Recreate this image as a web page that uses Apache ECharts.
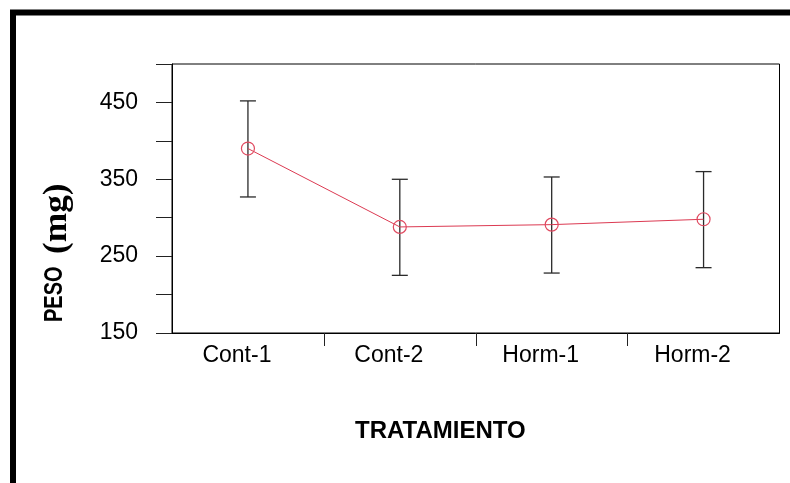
<!DOCTYPE html>
<html>
<head>
<meta charset="utf-8">
<script src="https://cdn.jsdelivr.net/npm/echarts@6/dist/echarts.min.js"></script>
<style>
  html, body { margin: 0; padding: 0; background: #fff; }
  #chart { width: 790px; height: 483px; }
</style>
</head>
<body>
<div id="chart"></div>
<script>
// Treatment groups and mean weight (mg) with error-bar limits
const categories = ['Cont-1', 'Cont-2', 'Horm-1', 'Horm-2'];
const means = [390, 288, 291, 298];
const lowerLimits = [327, 225, 228, 235];
const upperLimits = [452, 350, 353, 360];
const yTickLabels = [150, 250, 350, 450];

const errorData = categories.map((c, i) => [i, lowerLimits[i], upperLimits[i]]);

const chart = echarts.init(document.getElementById('chart'), null, { renderer: 'canvas' });

const labelFont = 'Liberation Sans, Arial, sans-serif';

chart.setOption({
  animation: false,
  backgroundColor: '#fff',
  title: {
    text: 'TRATAMIENTO',
    left: 350,
    top: 414,
    textStyle: { fontFamily: labelFont, fontWeight: 'bold', fontSize: 24, color: '#000' }
  },
  graphic: [
    {
      type: 'rect',
      silent: true,
      shape: { x: 13, y: 12.5, width: 820, height: 520 },
      style: { fill: 'none', stroke: '#000', lineWidth: 6 }
    },
    {
      // vertical axis title, part 1
      type: 'text',
      silent: true,
      x: 55,
      y: 322,
      rotation: Math.PI / 2,
      scaleY: 1.25,
      style: {
        text: 'PESO',
        font: 'bold 20px ' + labelFont,
        fill: '#000',
        align: 'left',
        verticalAlign: 'middle'
      }
    },
    {
      // vertical axis title, part 2 (unit)
      type: 'text',
      silent: true,
      x: 57,
      y: 254,
      rotation: Math.PI / 2,
      scaleX: 1.07,
      style: {
        text: '(mg)',
        font: 'bold 33px Liberation Serif, Times New Roman, serif',
        fill: '#000',
        align: 'left',
        verticalAlign: 'middle'
      }
    }
  ],
  grid: {
    left: 172, right: 10.5, top: 64, bottom: 150,
    show: true, borderColor: '#000', borderWidth: 1, backgroundColor: 'transparent'
  },
  xAxis: [
    {
      type: 'category',
      data: categories,
      boundaryGap: true,
      position: 'bottom',
      axisLine: { lineStyle: { color: '#000', width: 1 } },
      axisTick: { show: false },
      axisLabel: { fontFamily: labelFont, fontSize: 23, color: '#000', margin: 11, padding: [0, 22, 0, 0] },
      splitLine: { show: false }
    },
    {
      type: 'value',
      min: 0, max: 4,
      position: 'bottom',
      axisLine: { show: false },
      axisLabel: { show: false },
      axisTick: { show: true, length: 13, customValues: [1, 2, 3], lineStyle: { color: '#222', width: 1 } },
      splitLine: { show: false }
    }
  ],
  yAxis: {
    type: 'value',
    min: 150, max: 500, interval: 50,
    axisLine: { show: true, lineStyle: { color: '#000', width: 1 } },
    axisTick: { show: true, inside: false, length: 16, lineStyle: { color: '#222', width: 1 } },
    axisLabel: {
      fontFamily: labelFont, fontSize: 23, color: '#000', margin: 34,
      formatter: v => (yTickLabels.includes(v) ? String(v) : '')
    },
    splitLine: { show: false }
  },
  series: [
    {
      type: 'custom',
      xAxisIndex: 0,
      z: 1,
      data: errorData,
      renderItem: function (params, api) {
        const idx = api.value(0);
        const top = api.coord([idx, api.value(2)]);
        const bottom = api.coord([idx, api.value(1)]);
        const half = 8;
        const style = { stroke: '#2a2a2a', lineWidth: 1.3 };
        return {
          type: 'group',
          children: [
            { type: 'line', shape: { x1: top[0], y1: top[1], x2: bottom[0], y2: bottom[1] }, style },
            { type: 'line', shape: { x1: top[0] - half, y1: top[1], x2: top[0] + half, y2: top[1] }, style },
            { type: 'line', shape: { x1: bottom[0] - half, y1: bottom[1], x2: bottom[0] + half, y2: bottom[1] }, style }
          ]
        };
      }
    },
    {
      type: 'line',
      xAxisIndex: 0,
      z: 2,
      data: means,
      symbol: 'circle',
      symbolSize: 13,
      lineStyle: { color: '#dc3a52', width: 1 },
      itemStyle: { color: 'rgba(255,255,255,0)', borderColor: '#e04a60', borderWidth: 1.2 }
    }
  ]
});
</script>
</body>
</html>
